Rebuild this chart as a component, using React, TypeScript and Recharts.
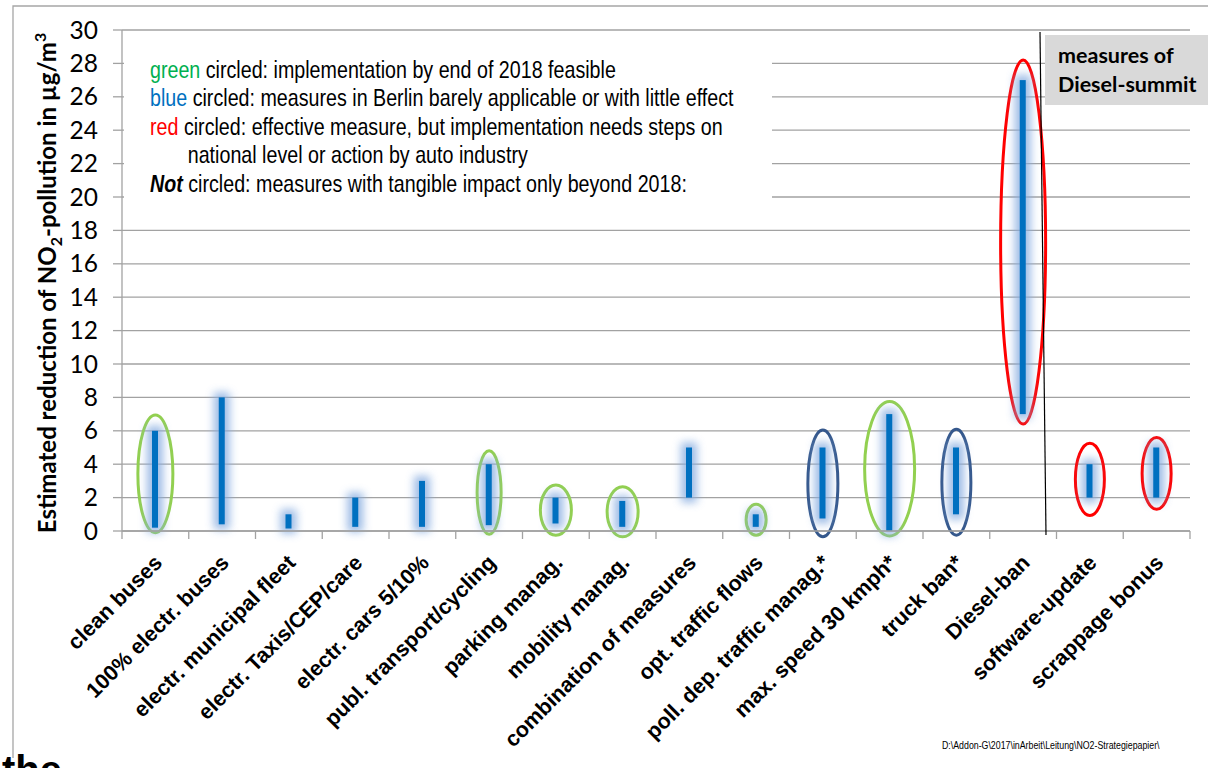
import React from 'react';
import { ComposedChart, Bar, XAxis, YAxis, CartesianGrid, ReferenceArea } from 'recharts';

// Measures against NO2 pollution and the estimated reduction range (µg/m³)
const measures = [
  'clean buses',
  '100% electr. buses',
  'electr. municipal fleet',
  'electr. Taxis/CEP/care',
  'electr. cars 5/10%',
  'publ. transport/cycling',
  'parking manag.',
  'mobility manag.',
  'combination of measures',
  'opt. traffic flows',
  'poll. dep. traffic manag.*',
  'max. speed 30 kmph*',
  'truck ban*',
  'Diesel-ban',
  'software-update',
  'scrappage bonus',
];
const reductionLow = [0.2, 0.4, 0.15, 0.25, 0.25, 0.35, 0.45, 0.25, 2, 0.25, 0.75, 0, 1, 7, 2, 2];
const reductionHigh = [6, 8, 1, 2, 3, 4, 2, 1.8, 5, 1, 5, 7, 5, 27, 4, 5];

// Assessment ring around each measure (null = not circled) and its vertical extent
const ringClass = ['green', null, null, null, null, 'green', 'green', 'green', null, 'green', 'blue', 'green', 'blue', 'red', 'red', 'red'];
const ringLow = [-0.1, null, null, null, null, -0.2, -0.25, -0.35, null, -0.25, -0.35, -0.3, -0.25, 6.4, 0.93, 1.3];
const ringHigh = [6.95, null, null, null, null, 4.8, 2.75, 2.65, null, 1.6, 6.05, 7.75, 6.1, 28.2, 5.26, 5.6];

const yTicks = [0, 2, 4, 6, 8, 10, 12, 14, 16, 18, 20, 22, 24, 26, 28, 30];

// Layout
const W = 1208;
const H = 768;
const PLOT_LEFT = 122;
const PLOT_RIGHT = 1190;
const PLOT_TOP = 30;
const PLOT_BOTTOM = 531;
const X_AXIS_H = 200;
const BAND = (PLOT_RIGHT - PLOT_LEFT) / measures.length;

const GRID = '#a2a2a2';
const BAR_BLUE = '#0070c0';
const RING_STROKE: Record<string, string> = { green: '#92d050', blue: '#35588c', red: '#ff0000' };
const RING_WIDTH = [35, 0, 0, 0, 0, 24, 31, 31, 0, 20, 30, 50, 29, 45, 29, 29];

const chartData = measures.map((m, i) => ({ measure: m, range: [reductionLow[i], reductionHigh[i]] }));

const GlowBar = (p: any) => {
  const { x, y, width, height } = p;
  if (width == null || height == null) return <g />;
  return (
    <g>
      <rect x={x - 5} y={y - 5} width={width + 10} height={height + 10} fill="#86ace0" opacity={0.8} filter="url(#barGlow)" />
      <rect x={x} y={y} width={width} height={height} fill={BAR_BLUE} />
    </g>
  );
};

const MeasureTick = (p: any) => {
  const { x, index, payload } = p;
  const last = index === measures.length - 1;
  return (
    <g>
      <line x1={x - BAND / 2} x2={x - BAND / 2} y1={PLOT_BOTTOM} y2={PLOT_BOTTOM + 8} stroke={GRID} strokeWidth={1.3} />
      {last && <line x1={x + BAND / 2} x2={x + BAND / 2} y1={PLOT_BOTTOM} y2={PLOT_BOTTOM + 8} stroke={GRID} strokeWidth={1.3} />}
      <text
        transform={`translate(${x + 8},${PLOT_BOTTOM + 33}) rotate(-45)`}
        textAnchor="end"
        fontFamily="'Liberation Sans', Arial, sans-serif"
        fontWeight={700}
        fontSize={21.5}
        fill="#000"
      >
        {payload.value}
      </text>
    </g>
  );
};

const ring = (i: number) => (p: any) => {
  const { x, y, width, height } = p;
  return (
    <ellipse
      cx={x + width / 2}
      cy={y + height / 2}
      rx={RING_WIDTH[i] / 2}
      ry={height / 2}
      fill="none"
      stroke={RING_STROKE[ringClass[i] as string]}
      strokeWidth={3}
    />
  );
};

const sansFont = "'Liberation Sans', Arial, sans-serif";

export default function App() {
  return (
    <div style={{ position: 'absolute', left: 0, top: 0, width: W, height: H, overflow: 'hidden', background: '#fff' }}>
      <svg width={0} height={0} style={{ position: 'absolute' }}>
        <defs>
          <filter id="barGlow" x="-300%" y="-100%" width="700%" height="300%">
            <feGaussianBlur stdDeviation={4} />
          </filter>
        </defs>
      </svg>
      <ComposedChart
        width={W}
        height={H}
        data={chartData}
        margin={{ top: PLOT_TOP, right: W - PLOT_RIGHT, left: 0, bottom: H - PLOT_BOTTOM - X_AXIS_H }}
      >
        <CartesianGrid vertical={false} stroke={GRID} strokeWidth={1.3} />
        <XAxis
          dataKey="measure"
          type="category"
          interval={0}
          height={X_AXIS_H}
          tickLine={false}
          axisLine={{ stroke: GRID, strokeWidth: 1.3 }}
          tick={<MeasureTick />}
        />
        <YAxis
          type="number"
          domain={[0, 30]}
          ticks={yTicks}
          interval={0}
          width={PLOT_LEFT}
          tickSize={9}
          tickMargin={15}
          tickLine={{ stroke: GRID, strokeWidth: 1.3 }}
          axisLine={{ stroke: GRID, strokeWidth: 1.3 }}
          tick={{ fontFamily: 'Lato, sans-serif', fontSize: 24.5, fill: '#000' }}
        />
        <Bar dataKey="range" barSize={6} isAnimationActive={false} shape={<GlowBar />} />
        {measures.map((m, i) =>
          ringClass[i] ? (
            <ReferenceArea
              key={m}
              x1={m}
              x2={m}
              y1={ringLow[i] as number}
              y2={ringHigh[i] as number}
              ifOverflow="visible"
              shape={ring(i)}
            />
          ) : null
        )}
      </ComposedChart>

      <svg width={W} height={H} style={{ position: 'absolute', left: 0, top: 0, pointerEvents: 'none' }}>
        {/* slide frame */}
        <path d={`M13,${H - 10} V6 H${W}`} fill="none" stroke="#a6a6a6" strokeWidth={1.3} />

        {/* explanation box */}
        <rect x={124} y={40} width={648} height={172} fill="#fff" />
        <g transform="translate(150,0) scale(0.82,1)" fontFamily={sansFont} fontSize={24} fill="#000">
          <text x={0} y={78}>
            <tspan fill="#00b050">green</tspan> circled: implementation by end of 2018 feasible
          </text>
          <text x={0} y={106.5}>
            <tspan fill="#0070c0">blue</tspan> circled: measures in Berlin barely applicable or with little effect
          </text>
          <text x={0} y={135}>
            <tspan fill="#ff0000">red</tspan> circled: effective measure, but implementation needs steps on
          </text>
          <text x={46} y={163.5}>national level or action by auto industry</text>
          <text x={0} y={192}>
            <tspan fontWeight={700} fontStyle="italic">Not</tspan> circled: measures with tangible impact only beyond 2018:
          </text>
        </g>

        {/* separator between city measures and Diesel-summit measures */}
        <line x1={1040} y1={32} x2={1046} y2={535} stroke="#000" strokeWidth={1.2} />
        <rect x={1045} y={35} width={W - 1045} height={70} fill="#d9d9d9" />
        <g fontFamily="Lato, sans-serif" fontWeight={700} fontSize={21.5} fill="#000">
          <text x={1058} y={63}>measures of</text>
          <text x={1058} y={92}>Diesel-summit</text>
        </g>

        {/* y-axis title */}
        <text
          transform="translate(56,283) rotate(-90)"
          textAnchor="middle"
          fontFamily="Lato, sans-serif"
          fontWeight={700}
          fontSize={24}
          fill="#000"
        >
          Estimated reduction of NO<tspan dy={6} fontSize={16}>2</tspan>
          <tspan dy={-6}>-pollution in µg/m</tspan>
          <tspan dy={-10} fontSize={16}>3</tspan>
        </text>

        <g transform="translate(942,0) scale(0.8,1)">
          <text x={0} y={749} fontFamily={sansFont} fontSize={11} fill="#000">
            D:\Addon-G\2017\inArbeit\Leitung\NO2-Strategiepapier\
          </text>
        </g>

        <text x={2} y={784} fontFamily={sansFont} fontWeight={700} fontSize={40} fill="#000">
          the
        </text>
      </svg>
    </div>
  );
}
